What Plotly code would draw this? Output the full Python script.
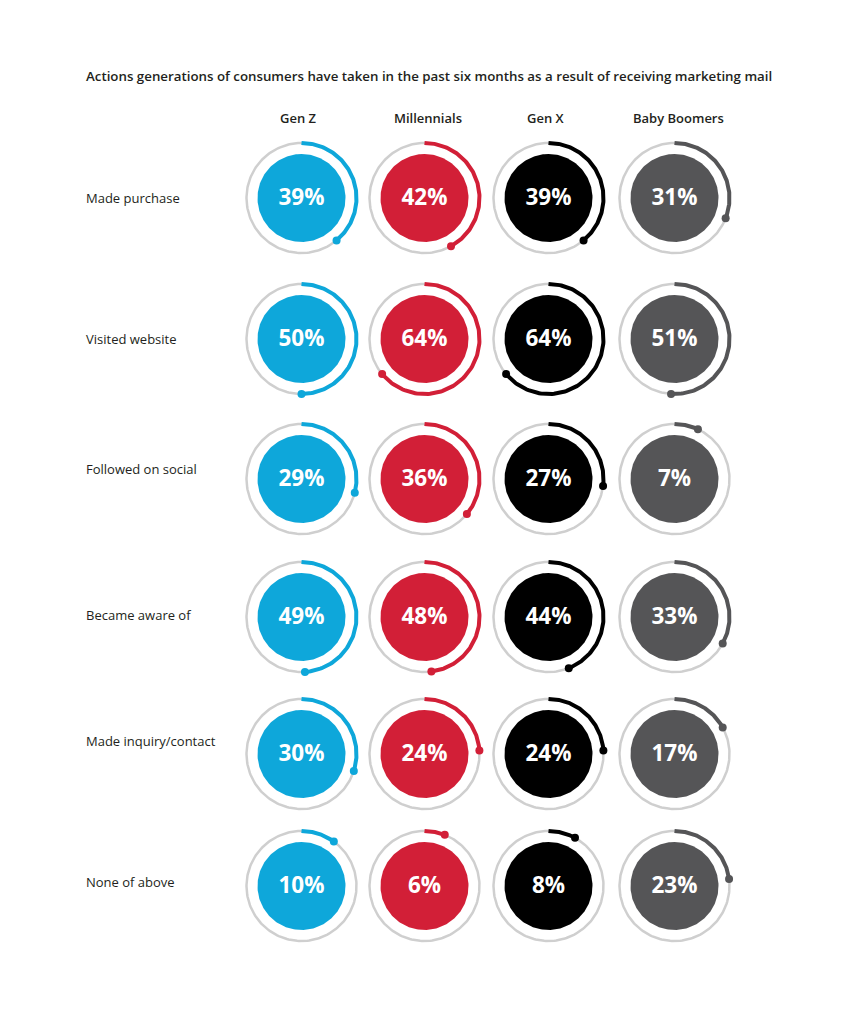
import numpy as np
import plotly.graph_objects as go

title = "Actions generations of consumers have taken in the past six months as a result of receiving marketing mail"
generations = ["Gen Z", "Millennials", "Gen X", "Baby Boomers"]
actions = ["Made purchase", "Visited website", "Followed on social",
           "Became aware of", "Made inquiry/contact", "None of above"]

# percent of each generation, one list per generation (rows in the order of actions)
gen_z = [39, 50, 29, 49, 30, 10]
millennials = [42, 64, 36, 48, 24, 6]
gen_x = [39, 64, 27, 44, 24, 8]
boomers = [31, 51, 7, 33, 17, 23]

colors = ["#0ea7da", "#d21f37", "#000000", "#555557"]

# layout, in page pixels
col_x = [301.5, 424.5, 548.5, 674.5]
row_y = [198, 339, 479, 617, 754, 886]
label_y = [198, 339, 469, 615, 741, 882]
R_RING = 55
R_FILL = 44

fig = go.Figure()

def circle(cx, cy, r, a0=0.0, a1=360.0, n=200):
    # angles clockwise from 12 o'clock, y axis is reversed (page coords)
    t = np.radians(np.linspace(a0, a1, n))
    return cx + r * np.sin(t), cy - r * np.cos(t)

for j, vals in enumerate([gen_z, millennials, gen_x, boomers]):
    for i, v in enumerate(vals):
        cx, cy = col_x[j], row_y[i]
        x, y = circle(cx, cy, R_FILL)
        fig.add_trace(go.Scatter(x=x, y=y, fill="toself", fillcolor=colors[j],
                                 mode="lines", line=dict(width=0, color=colors[j]),
                                 hoverinfo="skip"))
        x, y = circle(cx, cy, R_RING)
        fig.add_trace(go.Scatter(x=x, y=y, mode="lines",
                                 line=dict(width=2.5, color="#cfcfcf"), hoverinfo="skip"))
        x, y = circle(cx, cy, R_RING, 0, v * 3.6, 120)
        fig.add_trace(go.Scatter(x=x, y=y, mode="lines",
                                 line=dict(width=4, color=colors[j]), hoverinfo="skip"))
        fig.add_trace(go.Scatter(x=[x[-1]], y=[y[-1]], mode="markers",
                                 marker=dict(size=8, color=colors[j]), hoverinfo="skip"))
        fig.add_trace(go.Scatter(x=[cx], y=[cy + 1], mode="text", text=[f"{v}%"],
                                 textfont=dict(family="Open Sans", size=22.5, color="white",
                                               weight="bold"),
                                 hoverinfo="skip"))

for i, a in enumerate(actions):
    fig.add_annotation(x=84, y=label_y[i], text=a, showarrow=False, xanchor="left",
                       yanchor="middle", font=dict(family="Open Sans", size=13, color="#231f20"))

header_x = [298, 428, 546, 678]
for j, g in enumerate(generations):
    fig.add_annotation(x=header_x[j], y=118, text=g, showarrow=False, xanchor="center",
                       yanchor="middle",
                       font=dict(family="Open Sans", size=13, color="#231f20", weight=600))

fig.add_annotation(x=84, y=76, text=title, showarrow=False, xanchor="left", yanchor="middle",
                   font=dict(family="Open Sans", size=13.3, color="#231f20", weight=600))

fig.update_layout(
    width=850, height=1024,
    margin=dict(l=0, r=0, t=0, b=0),
    paper_bgcolor="white", plot_bgcolor="white",
    showlegend=False,
    xaxis=dict(range=[0, 850], visible=False, fixedrange=True),
    yaxis=dict(range=[1024, 0], visible=False, fixedrange=True),
)

fig.write_html("out.html", config={"displayModeBar": False},
               post_script="document.body.style.margin='0';")
